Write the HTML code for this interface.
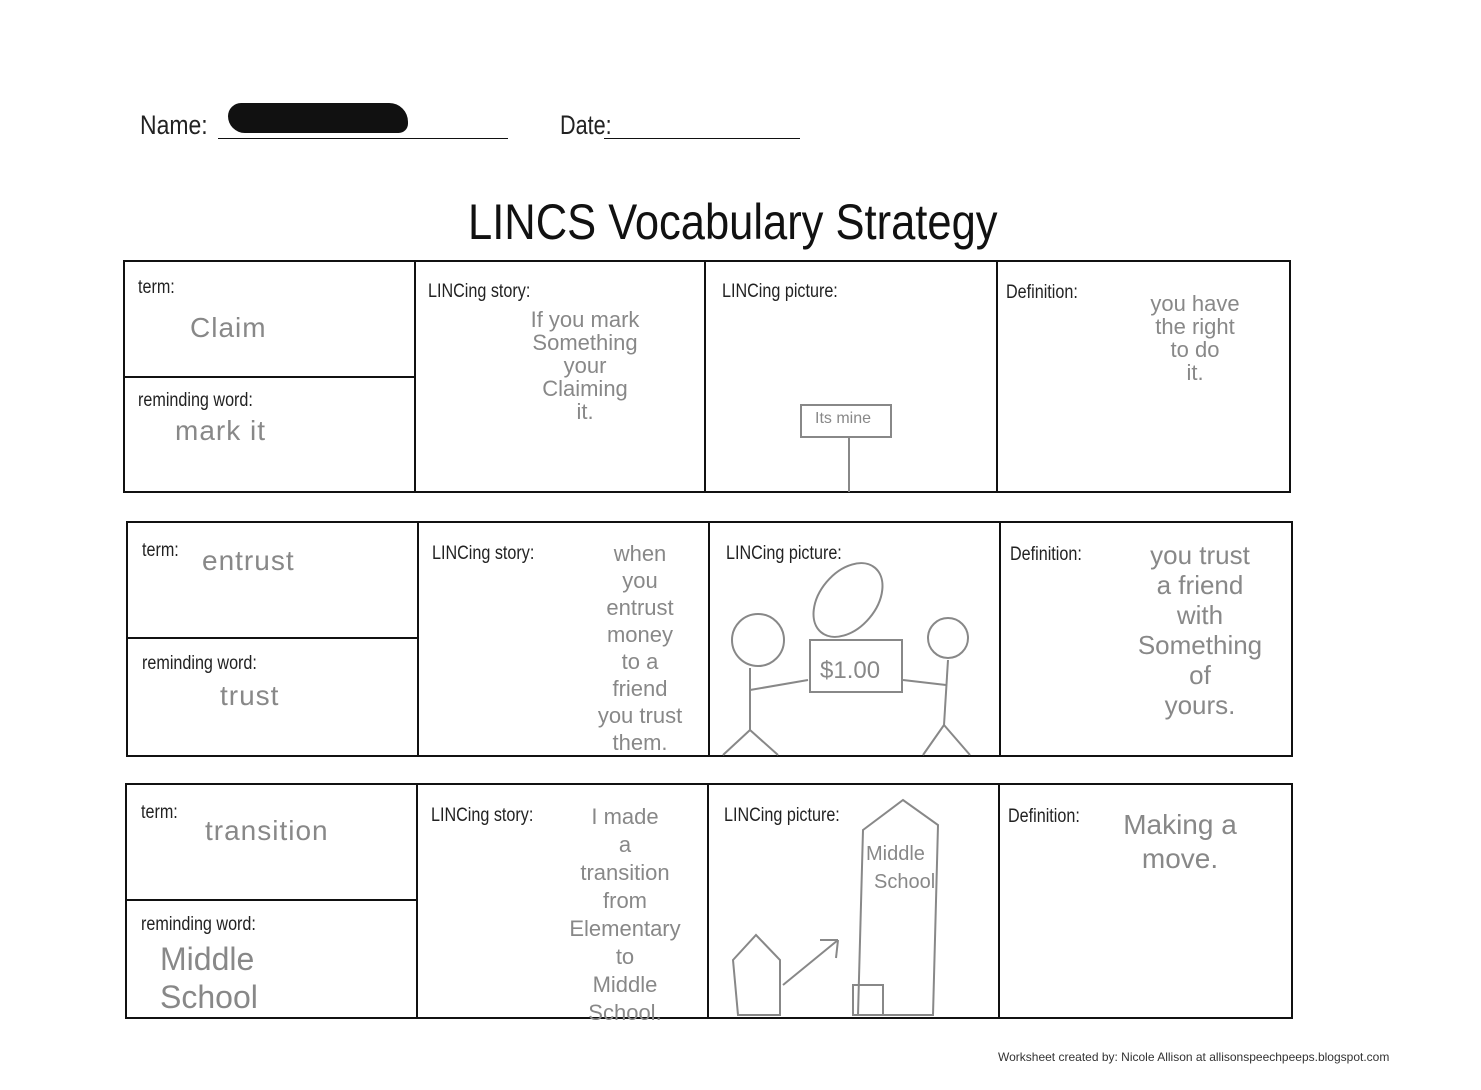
<!DOCTYPE html>
<html><head><meta charset="utf-8"><style>
body{margin:0;width:1481px;height:1090px;background:#fff;position:relative;overflow:hidden;font-family:"Liberation Sans",sans-serif;}
.a{position:absolute;white-space:nowrap;}
.lbl{font-size:19px;color:#222;transform:scaleX(0.85);transform-origin:left top;}
.h{color:#888;font-family:"Liberation Sans",sans-serif;font-size:28px;font-weight:300;letter-spacing:1px;}
.hs{color:#888;font-size:22px;line-height:23px;text-align:center;}
.box{position:absolute;border:2px solid #111;box-sizing:border-box;}
.v{position:absolute;width:2px;background:#111;}
.hl{position:absolute;height:2px;background:#111;}
</style></head><body>
<div class="a" style="left:140px;top:110px;font-size:27px;color:#222;transform:scaleX(.85);transform-origin:left top">Name:</div>
<div class="hl" style="left:218px;top:138px;width:290px;height:1px"></div>
<div style="position:absolute;left:228px;top:103px;width:180px;height:30px;background:#111;border-radius:14px 20px 10px 18px"></div>
<div class="a" style="left:560px;top:110px;font-size:27px;color:#222;transform:scaleX(.8);transform-origin:left top">Date:</div>
<div class="hl" style="left:604px;top:138px;width:196px;height:1px"></div>
<div class="a" style="left:468px;top:193px;font-size:50px;color:#111;transform:scaleX(.87);transform-origin:left top">LINCS Vocabulary Strategy</div>

<!-- table 1 -->
<div class="box" style="left:123px;top:260px;width:1168px;height:233px"></div>
<div class="v" style="left:414px;top:260px;height:233px"></div>
<div class="v" style="left:704px;top:260px;height:233px"></div>
<div class="v" style="left:996px;top:260px;height:233px"></div>
<div class="hl" style="left:123px;top:376px;width:292px"></div>
<div class="a lbl" style="left:138px;top:277px">term:</div>
<div class="a lbl" style="left:138px;top:390px">reminding word:</div>
<div class="a lbl" style="left:428px;top:281px">LINCing story:</div>
<div class="a lbl" style="left:722px;top:281px">LINCing picture:</div>
<div class="a lbl" style="left:1006px;top:282px">Definition:</div>
<div class="a h" style="left:190px;top:312px">Claim</div>
<div class="a h" style="left:175px;top:415px">mark it</div>
<div class="a hs" style="left:490px;top:308px;width:190px">If you mark<br>Something<br>your<br>Claiming<br>it.</div>
<div style="position:absolute;left:800px;top:404px;width:88px;height:30px;border:2px solid #888"></div>
<div class="a" style="left:815px;top:410px;color:#888;font-size:16px">Its mine</div>
<div class="v" style="left:848px;top:436px;height:56px;background:#888"></div>
<div class="a hs" style="left:1095px;top:292px;width:200px">you have<br>the right<br>to do<br>it.</div>

<!-- table 2 -->
<div class="box" style="left:126px;top:521px;width:1167px;height:236px"></div>
<div class="v" style="left:417px;top:521px;height:236px"></div>
<div class="v" style="left:708px;top:521px;height:236px"></div>
<div class="v" style="left:999px;top:521px;height:236px"></div>
<div class="hl" style="left:126px;top:637px;width:292px"></div>
<div class="a lbl" style="left:142px;top:540px">term:</div>
<div class="a lbl" style="left:142px;top:653px">reminding word:</div>
<div class="a lbl" style="left:432px;top:543px">LINCing story:</div>
<div class="a lbl" style="left:726px;top:543px">LINCing picture:</div>
<div class="a lbl" style="left:1010px;top:544px">Definition:</div>
<div class="a h" style="left:202px;top:545px">entrust</div>
<div class="a h" style="left:220px;top:680px">trust</div>
<div class="a hs" style="left:565px;top:540px;width:150px;line-height:27px">when<br>you<br>entrust<br>money<br>to a<br>friend<br>you trust<br>them.</div>
<svg style="position:absolute;left:708px;top:560px" width="290" height="200"><g stroke="#888" stroke-width="2" fill="none">
<circle cx="50" cy="80" r="26"/><line x1="42" y1="108" x2="42" y2="170"/><line x1="42" y1="170" x2="15" y2="195"/><line x1="42" y1="170" x2="70" y2="195"/><line x1="42" y1="130" x2="100" y2="120"/>
<circle cx="240" cy="78" r="20"/><line x1="240" y1="100" x2="236" y2="165"/><line x1="236" y1="165" x2="215" y2="195"/><line x1="236" y1="165" x2="262" y2="195"/><line x1="238" y1="125" x2="195" y2="120"/>
<rect x="102" y="80" width="92" height="52"/><ellipse cx="140" cy="40" rx="28" ry="42" transform="rotate(40 140 40)"/></g>
<text x="112" y="118" fill="#888" font-size="24" font-family="Liberation Sans">$1.00</text></svg>
<div class="a hs" style="left:1095px;top:540px;width:210px;line-height:30px;font-size:26px">you trust<br>a friend<br>with<br>Something<br>of<br>yours.</div>

<!-- table 3 -->
<div class="box" style="left:125px;top:783px;width:1168px;height:236px"></div>
<div class="v" style="left:416px;top:783px;height:236px"></div>
<div class="v" style="left:707px;top:783px;height:236px"></div>
<div class="v" style="left:998px;top:783px;height:236px"></div>
<div class="hl" style="left:125px;top:899px;width:292px"></div>
<div class="a lbl" style="left:141px;top:802px">term:</div>
<div class="a lbl" style="left:141px;top:914px">reminding word:</div>
<div class="a lbl" style="left:431px;top:805px">LINCing story:</div>
<div class="a lbl" style="left:724px;top:805px">LINCing picture:</div>
<div class="a lbl" style="left:1008px;top:806px">Definition:</div>
<div class="a h" style="left:205px;top:815px">transition</div>
<div class="a hs" style="left:160px;top:940px;width:150px;font-size:32px;line-height:38px;text-align:left">Middle<br>School</div>
<div class="a hs" style="left:540px;top:803px;width:170px;line-height:28px">I made<br>a<br>transition<br>from<br>Elementary<br>to<br>Middle<br>School.</div>
<svg style="position:absolute;left:708px;top:780px" width="290" height="240"><g stroke="#888" stroke-width="2" fill="none">
<polygon points="155,50 195,20 230,45 225,235 150,235"/><rect x="145" y="205" width="30" height="30"/>
<polygon points="25,180 48,155 72,180 72,235 30,235"/><line x1="75" y1="205" x2="130" y2="160"/><line x1="112" y1="160" x2="130" y2="160"/><line x1="130" y1="160" x2="128" y2="178"/></g>
<text x="158" y="80" fill="#888" font-size="20">Middle</text><text x="166" y="108" fill="#888" font-size="20">School</text></svg>
<div class="a hs" style="left:1100px;top:808px;width:160px;font-size:28px;line-height:34px">Making a<br>move.</div>

<div class="a" style="left:998px;top:1050px;font-size:12px;color:#333">Worksheet created by: Nicole Allison at allisonspeechpeeps.blogspot.com</div>
</body></html>
